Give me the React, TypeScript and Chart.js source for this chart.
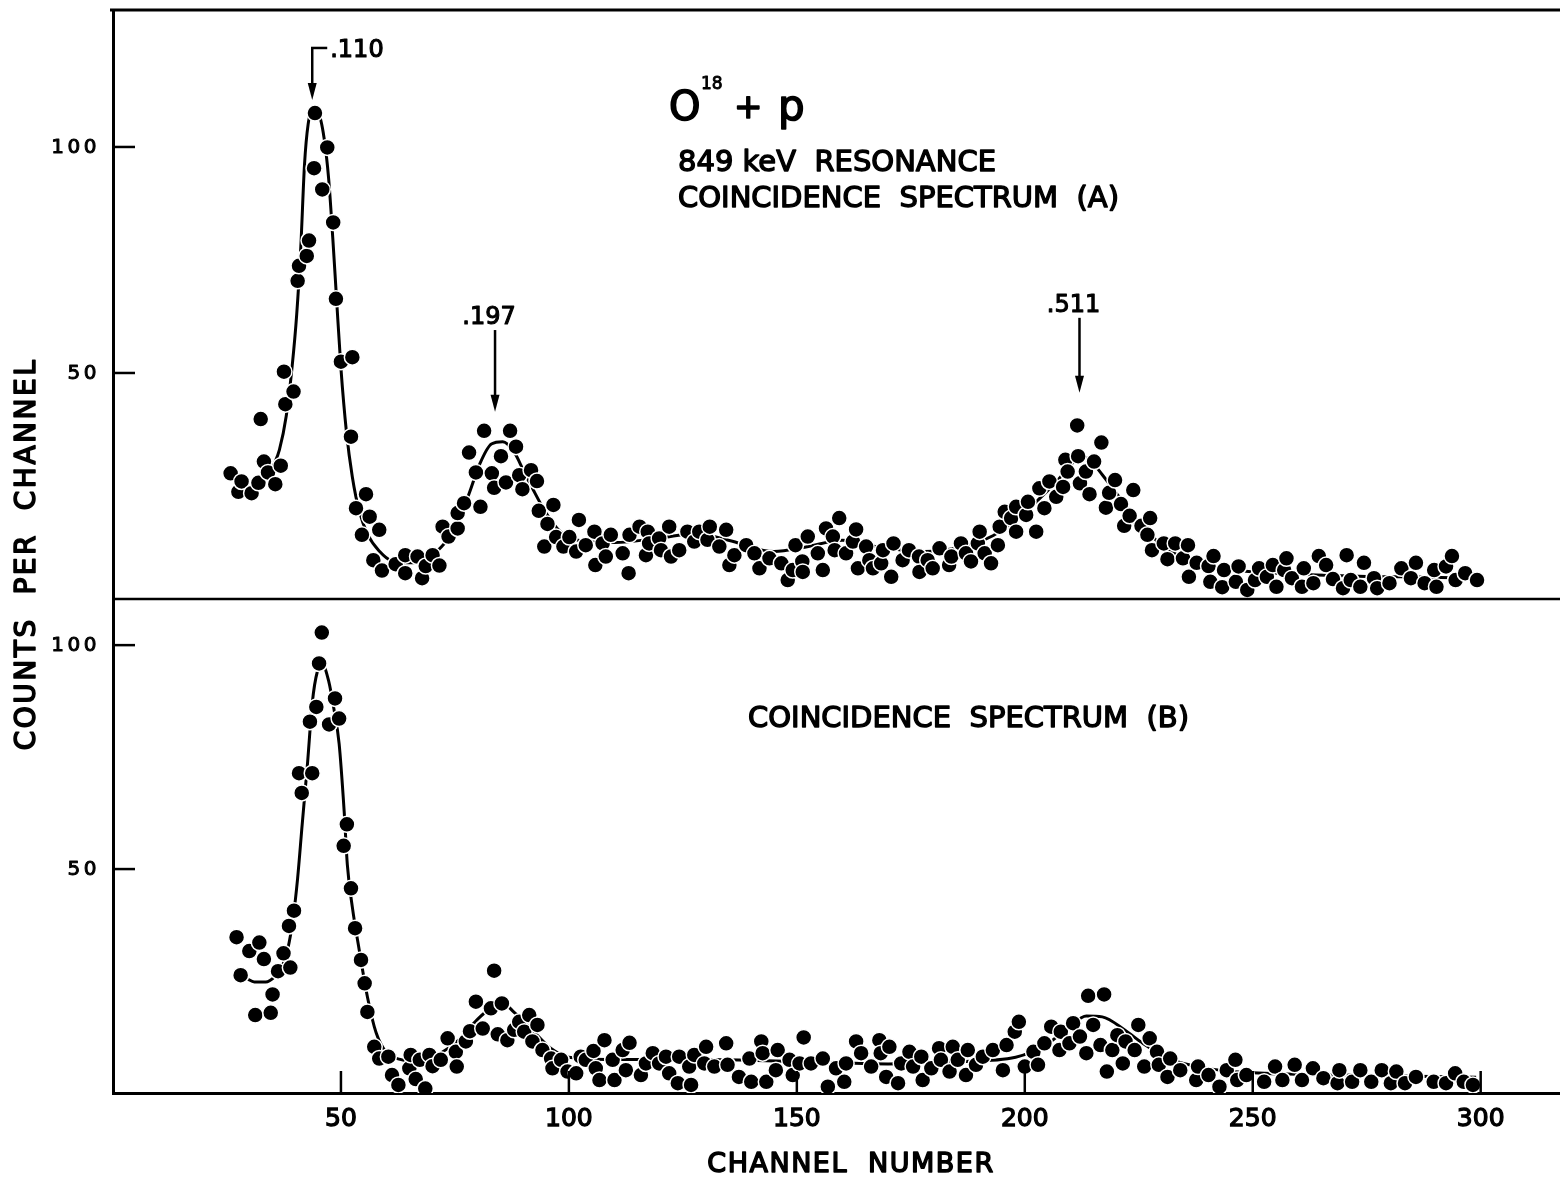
import React, { useEffect, useRef } from 'react';
import { Chart, registerables } from 'chart.js';

Chart.register(...registerables);

// ---------- data ----------
const topChannels = [
  25.8, 27.5, 28.2, 30.4, 31.9, 32.4, 33.1, 34.0, 35.6, 36.8, 37.5, 37.8, 39.6, 40.5, 40.8, 42.5, 43.0, 44.1, 44.3, 45.9,
  47.0, 48.3, 48.9, 50.0, 52.5, 52.2, 53.3, 54.6, 55.5, 56.3, 57.1, 58.4, 59.0, 62.0, 64.1, 64.1, 66.8, 67.8, 68.6, 70.1,
  71.6, 72.3, 73.6, 75.6, 75.6, 77.0, 78.1, 79.6, 80.6, 81.4, 83.1, 83.6, 85.1, 86.2, 87.1, 88.4, 89.1, 89.8, 91.7, 93.0,
  93.4, 94.6, 95.3, 96.6, 97.2, 98.8, 100.1, 101.6, 102.2, 103.7, 105.6, 105.8, 107.4, 108.1, 109.2, 111.8, 113.1, 113.3, 115.5, 116.9,
  117.3, 117.6, 119.8, 120.2, 122.0, 122.4, 124.2, 126.0, 127.5, 128.6, 130.4, 130.9, 133.0, 134.5, 135.2, 136.3, 138.9, 140.7, 141.8, 144.0,
  146.6, 148.0, 149.1, 149.7, 151.2, 151.3, 152.4, 154.6, 155.7, 156.4, 157.9, 158.3, 159.3, 160.8, 162.3, 163.0, 163.4, 165.2, 165.9, 166.7,
  168.5, 168.9, 170.7, 171.2, 173.2, 174.6, 176.8, 176.9, 178.7, 179.8, 181.3, 183.4, 183.9, 186.0, 187.1, 188.2, 189.7, 190.1, 191.2, 192.6,
  194.1, 194.5, 195.6, 197.0, 198.1, 198.1, 200.3, 200.7, 202.5, 203.2, 204.3, 205.4, 206.9, 208.4, 208.9, 209.4, 211.5, 211.7, 212.1, 213.4,
  214.2, 215.2, 216.8, 217.8, 218.5, 219.8, 221.1, 221.8, 223.0, 223.8, 225.6, 226.9, 227.5, 227.9, 230.5, 231.3, 233.0, 234.7, 235.8, 236.0,
  237.7, 240.3, 240.7, 241.4, 243.3, 243.7, 246.3, 246.9, 248.8, 250.5, 251.4, 253.1, 254.4, 255.2, 256.9, 257.4, 258.6, 260.8, 261.2, 263.3,
  264.5, 266.1, 267.6, 269.8, 270.6, 271.5, 273.6, 274.4, 276.6, 277.3, 280.0, 282.6, 284.7, 285.8, 287.7, 289.8, 290.3, 292.4, 293.7, 294.5,
  296.6, 299.2,
];
const topCounts = [
  27.8, 23.7, 26.0, 23.4, 25.7, 39.8, 30.4, 28.0, 25.4, 29.5, 50.3, 43.1, 45.9, 70.4, 73.7, 75.9, 79.3, 95.3, 107.5, 90.6,
  99.9, 83.3, 66.4, 52.5, 53.5, 35.9, 20.1, 14.2, 23.2, 18.2, 8.6, 15.3, 6.3, 7.7, 9.7, 5.7, 9.4, 4.6, 7.3, 9.7,
  7.4, 16.0, 13.8, 15.6, 19.0, 21.2, 32.4, 28.0, 20.4, 37.2, 27.8, 24.6, 31.6, 25.8, 37.2, 33.7, 27.4, 24.3, 28.5, 26.1,
  19.5, 11.6, 16.6, 20.8, 13.7, 11.6, 13.7, 10.5, 17.5, 11.9, 14.9, 7.5, 12.3, 9.4, 14.2, 10.1, 5.7, 14.2, 16.0, 9.7,
  14.9, 12.3, 13.4, 10.8, 16.0, 9.4, 10.8, 14.9, 12.7, 14.9, 13.1, 16.0, 11.6, 15.3, 7.5, 9.7, 11.9, 10.1, 6.8, 9.0,
  7.9, 4.2, 6.4, 11.9, 8.3, 6.0, 13.8, 10.1, 6.4, 15.6, 13.8, 10.8, 17.9, 10.1, 12.7, 15.4, 6.8, 11.6, 8.6, 6.8,
  7.9, 10.8, 4.9, 12.3, 8.6, 10.8, 9.4, 6.0, 8.6, 6.8, 11.2, 7.5, 9.4, 12.3, 10.1, 8.3, 12.3, 14.9, 10.1, 7.9,
  11.9, 16.0, 19.3, 17.9, 20.4, 14.9, 18.6, 21.5, 14.9, 24.5, 20.1, 26.0, 22.6, 24.8, 30.8, 28.2, 38.4, 31.6, 25.6, 28.2,
  23.2, 30.4, 34.6, 20.2, 23.5, 26.3, 21.0, 16.2, 18.4, 24.1, 16.2, 14.2, 17.9, 10.8, 12.3, 8.8, 12.3, 9.0, 11.9, 4.9,
  8.0, 7.3, 3.8, 9.5, 2.6, 6.4, 3.8, 7.2, 2.0, 4.2, 6.8, 4.9, 7.5, 2.7, 6.4, 9.0, 4.6, 2.7, 6.8, 3.5,
  9.5, 7.5, 4.4, 2.4, 9.7, 4.2, 2.7, 8.0, 4.6, 2.4, 3.5, 6.8, 4.6, 8.0, 3.5, 6.4, 2.7, 7.2, 9.5, 4.2,
  5.7, 4.2,
];

const bottomChannels = [
  27.1, 28.0, 29.9, 31.2, 32.1, 33.1, 34.6, 35.0, 36.2, 37.4, 38.9, 38.6, 39.7, 40.8, 41.4, 43.2, 43.7, 44.6, 45.2, 45.8,
  47.4, 48.7, 49.6, 50.6, 51.3, 52.2, 53.1, 54.4, 55.2, 55.8, 57.3, 58.4, 60.4, 61.2, 62.6, 65.0, 65.3, 66.4, 67.3, 68.5,
  69.4, 70.1, 71.9, 73.4, 75.2, 75.4, 77.4, 78.3, 79.6, 81.1, 82.9, 83.6, 84.4, 85.3, 86.5, 88.0, 89.1, 90.2, 91.3, 92.0,
  93.1, 94.2, 96.1, 96.4, 98.3, 99.7, 101.6, 102.6, 103.7, 105.4, 105.9, 106.7, 107.8, 109.6, 110.0, 111.8, 112.5, 113.3, 115.8, 116.9,
  118.4, 119.8, 121.3, 122.0, 123.9, 124.2, 126.4, 126.8, 127.5, 129.7, 130.1, 131.9, 134.5, 134.8, 137.3, 139.6, 140.0, 142.2, 142.5, 143.3,
  145.4, 145.8, 148.4, 149.1, 150.6, 151.5, 153.1, 155.7, 156.8, 158.6, 160.4, 160.8, 163.0, 164.1, 166.3, 168.1, 168.4, 169.6, 170.3, 172.2,
  172.9, 174.7, 175.5, 177.3, 177.6, 179.5, 181.2, 181.6, 183.5, 184.2, 185.3, 187.1, 187.5, 189.3, 190.8, 193.0, 195.2, 196.0, 197.8, 198.7,
  200.0, 201.9, 202.9, 204.3, 205.8, 207.6, 207.9, 209.8, 210.6, 212.1, 213.5, 213.9, 215.0, 216.6, 217.4, 218.0, 219.2, 220.3, 221.5, 222.1,
  224.1, 224.9, 226.2, 227.4, 229.0, 229.4, 231.3, 231.9, 234.1, 237.6, 238.0, 240.3, 242.7, 244.3, 246.2, 246.6, 248.6, 252.5, 254.9, 256.5,
  259.2, 260.8, 263.2, 265.5, 268.6, 269.0, 271.8, 273.6, 276.0, 278.3, 280.3, 281.5, 283.4, 285.8, 289.7, 292.4, 294.4, 296.3, 298.3,
];
const bottomCounts = [
  34.8, 26.3, 31.7, 17.4, 33.6, 29.9, 17.9, 22.0, 27.2, 31.2, 28.0, 37.3, 40.7, 71.4, 67.0, 82.9, 71.4, 86.2, 95.9, 102.8,
  82.3, 88.1, 83.6, 55.2, 60.0, 45.7, 36.8, 29.7, 24.5, 18.1, 10.3, 7.7, 8.1, 4.0, 1.8, 5.5, 8.5, 3.1, 7.4, 1.0,
  8.5, 6.0, 7.4, 12.2, 9.2, 5.9, 11.5, 13.8, 20.4, 14.4, 18.9, 27.3, 13.1, 20.0, 11.8, 14.1, 15.9, 13.7, 17.4, 11.5,
  15.2, 9.6, 7.7, 5.5, 7.4, 4.8, 4.4, 8.1, 7.4, 9.4, 5.5, 2.9, 11.8, 7.4, 2.9, 9.6, 5.1, 11.2, 4.0, 6.6,
  8.9, 6.6, 8.1, 4.4, 2.2, 8.1, 5.9, 1.8, 8.5, 6.6, 10.3, 5.9, 11.1, 6.3, 3.6, 7.7, 2.5, 11.5, 8.9, 2.5,
  5.1, 9.6, 7.4, 4.0, 6.6, 12.4, 6.6, 7.7, 1.4, 5.5, 2.5, 6.6, 11.5, 8.9, 5.9, 11.8, 8.9, 3.6, 10.3, 2.2,
  6.6, 9.2, 5.9, 8.1, 2.9, 5.5, 10.0, 7.4, 4.8, 10.3, 7.4, 4.0, 9.6, 6.3, 8.1, 9.6, 5.1, 10.7, 13.7, 15.9,
  5.9, 9.2, 6.3, 11.1, 14.8, 9.6, 13.7, 11.1, 15.6, 12.6, 8.9, 21.7, 15.2, 10.7, 22.0, 4.8, 9.6, 12.9, 6.6, 11.5,
  9.6, 15.2, 5.9, 12.2, 9.2, 6.3, 3.6, 7.7, 5.1, 2.9, 5.9, 4.0, 1.4, 5.1, 7.4, 2.9, 4.0, 2.5, 5.9, 2.9,
  6.3, 2.9, 5.5, 3.3, 2.2, 5.1, 2.5, 5.1, 2.5, 5.1, 2.2, 4.8, 2.2, 3.6, 2.5, 2.2, 4.4, 2.5, 1.8,
];

// hand-drawn fitted curves (A) and (B)
const topFitChannels = [
  35, 36.5, 38, 39.3, 40.3, 41.2, 42, 42.8, 43.8, 45, 46.3, 47.3, 48.2, 49, 50, 51.2, 52.5, 54, 56, 58.5,
  61, 65, 69, 72, 75, 78, 80.5, 83, 85.5, 88, 90, 92, 95, 98, 102, 110, 120, 128, 135, 145,
  152, 160, 168, 178, 186, 193, 198, 203, 207, 210, 212, 214, 217, 220, 225, 230, 235, 242, 250, 260,
  275, 290, 299,
];
const topFitCounts = [
  29, 33, 40.5, 51.5, 63, 78, 96, 105, 108, 107.5, 102, 93, 80, 67, 51, 37, 27, 19.5, 14, 10.5,
  8.5, 8, 9, 11.5, 15.5, 23, 30, 34.3, 34.8, 32.5, 28.5, 24.5, 19, 15, 13, 12.5, 13.5, 14.5, 13, 10.5,
  11.5, 13, 11.5, 10.5, 11.5, 14, 17.5, 22, 26, 29.5, 31.5, 31, 27.5, 23.5, 17, 12, 9, 7, 6, 5.5,
  5, 4.8, 4.5,
];
const bottomFitChannels = [
  29.4, 31, 33.5, 35.5, 37, 38.3, 39.5, 40.5, 41.5, 42.7, 43.7, 44.8, 46, 47.3, 48.5, 49.6, 50.7, 51.4, 52.5, 54,
  55.8, 57.7, 60, 63, 67, 72, 76, 80, 83, 85.5, 88, 92, 96, 100, 110, 130, 150, 170, 185, 198,
  205, 210, 213.5, 217, 222, 226, 232, 240, 250, 270, 299,
];
const bottomFitCounts = [
  25.5, 24.8, 24.8, 26, 28, 32, 39, 48, 60, 74, 87, 94, 95.5, 92, 85.5, 78, 63, 51, 41.5, 32,
  21.5, 13.5, 9, 7.5, 7, 9, 12, 16.5, 19, 20, 18, 14, 10, 8, 7.5, 7.5, 7, 6.5, 7, 8,
  11, 15, 17.2, 17, 14, 11, 7.5, 5.5, 4.5, 4, 3.5,
];

const xTickValues = [50, 100, 150, 200, 250, 300];
const yTickValues = [50, 100];

const peakLabels = ['.110', '.197', '.511'];
const peakChannels = [43.7, 83.8, 212.0];
const arrowTopCounts = [121.9, 59.5, 62.2];
const arrowTipCounts = [110.4, 41.4, 45.6];

const FONT = "'DejaVu Sans', 'Liberation Sans', sans-serif";

function toXY(xs: number[], ys: number[]) {
  return xs.map((x, i) => ({ x, y: ys[i] }));
}

function heavyText(
  ctx: CanvasRenderingContext2D,
  text: string,
  x: number,
  y: number,
  size: number,
  stroke = 1.2,
  spacing = 0,
) {
  ctx.font = `${size}px ${FONT}`;
  (ctx as any).letterSpacing = `${spacing}px`;
  ctx.lineWidth = stroke;
  ctx.lineJoin = 'round';
  ctx.fillText(text, x, y);
  if (stroke > 0) ctx.strokeText(text, x, y);
  (ctx as any).letterSpacing = '0px';
}

const zeroPadding = (s: any) => {
  s.paddingTop = 0;
  s.paddingBottom = 0;
  s.paddingLeft = 0;
  s.paddingRight = 0;
};

const decorPlugin = {
  id: 'decor',
  afterDraw(chart: any) {
    const ctx: CanvasRenderingContext2D = chart.ctx;
    const { left, right, top, bottom } = chart.chartArea;
    const xs = chart.scales.x;
    const yA = chart.scales.yA;
    const yB = chart.scales.yB;
    ctx.save();
    ctx.strokeStyle = '#000';
    ctx.fillStyle = '#000';
    ctx.lineCap = 'butt';

    const line = (x1: number, y1: number, x2: number, y2: number) => {
      ctx.beginPath();
      ctx.moveTo(x1, y1);
      ctx.lineTo(x2, y2);
      ctx.stroke();
    };

    // top frame line and panel divider
    ctx.lineWidth = 3;
    line(left - 3, top, right, top);
    const yDiv = yA.getPixelForValue(0);
    ctx.lineWidth = 2.5;
    line(left, yDiv, right, yDiv);

    // inward tick marks
    ctx.lineWidth = 2.5;
    for (const v of yTickValues) {
      const pa = yA.getPixelForValue(v);
      line(left, pa, left + 22, pa);
      const pb = yB.getPixelForValue(v);
      line(left, pb, left + 22, pb);
    }
    for (const v of xTickValues) {
      const px = xs.getPixelForValue(v);
      line(px, bottom, px, bottom - 22);
    }

    // y tick labels (wide lettering)
    ctx.textAlign = 'right';
    ctx.textBaseline = 'middle';
    for (const v of yTickValues) {
      heavyText(ctx, String(v), left - 13, yA.getPixelForValue(v) + 1, 20, 1.0, 3.5);
      heavyText(ctx, String(v), left - 13, yB.getPixelForValue(v) + 1, 20, 1.0, 3.5);
    }

    // peak arrows
    for (let i = 0; i < peakLabels.length; i++) {
      const px = xs.getPixelForValue(peakChannels[i]);
      const y1 = yA.getPixelForValue(arrowTopCounts[i]);
      const y2 = yA.getPixelForValue(arrowTipCounts[i]);
      ctx.lineWidth = 2.5;
      line(px, y1, px, y2 - 14);
      ctx.beginPath();
      ctx.moveTo(px - 4.5, y2 - 17);
      ctx.lineTo(px + 4.5, y2 - 17);
      ctx.lineTo(px, y2);
      ctx.closePath();
      ctx.fill();
    }
    // bracket of .110
    {
      const px = xs.getPixelForValue(peakChannels[0]);
      const y1 = yA.getPixelForValue(arrowTopCounts[0]);
      ctx.lineWidth = 2.5;
      line(px - 1.2, y1, px + 15, y1);
    }

    ctx.textBaseline = 'alphabetic';
    ctx.textAlign = 'left';
    {
      const px = xs.getPixelForValue(peakChannels[0]);
      const y1 = yA.getPixelForValue(arrowTopCounts[0]);
      heavyText(ctx, peakLabels[0], px + 18, y1 + 9, 24, 1.1);
    }
    ctx.textAlign = 'center';
    for (let i = 1; i < peakLabels.length; i++) {
      const px = xs.getPixelForValue(peakChannels[i]);
      const y1 = yA.getPixelForValue(arrowTopCounts[i]);
      heavyText(ctx, peakLabels[i], px - 6, y1 - 6, 24, 1.1);
    }

    // panel titles
    ctx.textAlign = 'left';
    heavyText(ctx, 'O', 669, 120, 40, 1.6);
    heavyText(ctx, '18', 701, 89, 17, 0.9);
    heavyText(ctx, '+', 734, 118, 34, 1.6);
    heavyText(ctx, 'p', 778, 120, 42, 1.6);

    heavyText(ctx, '849 keV  RESONANCE', 678, 171, 29, 1.4);
    heavyText(ctx, 'COINCIDENCE  SPECTRUM  (A)', 678, 207, 29, 1.4);
    heavyText(ctx, 'COINCIDENCE  SPECTRUM  (B)', 748, 727, 29, 1.4);

    // axis titles
    ctx.textAlign = 'center';
    heavyText(ctx, 'CHANNEL  NUMBER', 851, 1172, 27, 1.5, 1.5);
    ctx.save();
    ctx.translate(35, 554);
    ctx.rotate(-Math.PI / 2);
    heavyText(ctx, 'COUNTS  PER  CHANNEL', 0, 0, 28, 1.5, 2.5);
    ctx.restore();
    ctx.restore();
  },
};

export default function App() {
  const canvasRef = useRef<HTMLCanvasElement | null>(null);

  useEffect(() => {
    document.body.style.margin = '0';
    document.body.style.background = '#fff';
    const canvas = canvasRef.current;
    if (!canvas) return;
    Chart.defaults.font.family = FONT;
    Chart.defaults.color = '#000';

    const commonY = (max: number, weight: number) => ({
      type: 'linear' as const,
      position: 'left' as const,
      stack: 'v',
      stackWeight: weight,
      min: 0,
      max,
      afterBuildTicks: (s: any) => {
        s.ticks = yTickValues.map((v) => ({ value: v }));
      },
      afterFit: (s: any) => {
        s.width = 113;
        zeroPadding(s);
      },
      grid: { display: false, drawTicks: false },
      border: { display: true, color: '#000', width: 3 },
      ticks: { display: false },
    });

    const chart = new Chart(canvas, {
      type: 'scatter',
      data: {
        datasets: [
          {
            label: 'A',
            data: toXY(topChannels, topCounts),
            yAxisID: 'yA',
            pointRadius: 8,
            pointBackgroundColor: '#000',
            pointBorderColor: '#fff',
            pointBorderWidth: 1.5,
            order: 0,
          },
          {
            label: 'B',
            data: toXY(bottomChannels, bottomCounts),
            yAxisID: 'yB',
            pointRadius: 8,
            pointBackgroundColor: '#000',
            pointBorderColor: '#fff',
            pointBorderWidth: 1.5,
            order: 0,
          },
          {
            label: 'fit A',
            data: toXY(topFitChannels, topFitCounts),
            yAxisID: 'yA',
            showLine: true,
            pointRadius: 0,
            borderColor: '#000',
            borderWidth: 3,
            cubicInterpolationMode: 'monotone',
            order: 1,
          } as any,
          {
            label: 'fit B',
            data: toXY(bottomFitChannels, bottomFitCounts),
            yAxisID: 'yB',
            showLine: true,
            pointRadius: 0,
            borderColor: '#000',
            borderWidth: 3,
            cubicInterpolationMode: 'monotone',
            order: 1,
          } as any,
        ],
      },
      options: {
        animation: false,
        responsive: false,
        devicePixelRatio: 1,
        events: [],
        layout: { autoPadding: false, padding: { top: 10, left: 0, right: 0, bottom: 0 } },
        plugins: {
          legend: { display: false },
          tooltip: { enabled: false },
          title: { display: false },
        },
        scales: {
          x: {
            type: 'linear',
            position: 'bottom',
            min: 0,
            max: 317.4,
            afterBuildTicks: (s: any) => {
              s.ticks = xTickValues.map((v) => ({ value: v }));
            },
            afterFit: (s: any) => {
              s.height = 87;
              zeroPadding(s);
            },
            grid: { display: false, drawTicks: false },
            border: { display: true, color: '#000', width: 3 },
            ticks: {
              color: '#000',
              font: { size: 25 },
              padding: 11,
              maxRotation: 0,
              autoSkip: false,
              textStrokeColor: '#000',
              textStrokeWidth: 1.3,
              callback: (v: any) => String(v),
            },
          },
          yB: commonY(110.3, 494),
          yA: commonY(130.3, 589),
        } as any,
      },
      plugins: [decorPlugin],
    });

    return () => {
      chart.destroy();
    };
  }, []);

  return (
    <div style={{ width: 1560, height: 1180, background: '#fff' }}>
      <canvas ref={canvasRef} width={1560} height={1180} style={{ display: 'block' }} />
    </div>
  );
}
